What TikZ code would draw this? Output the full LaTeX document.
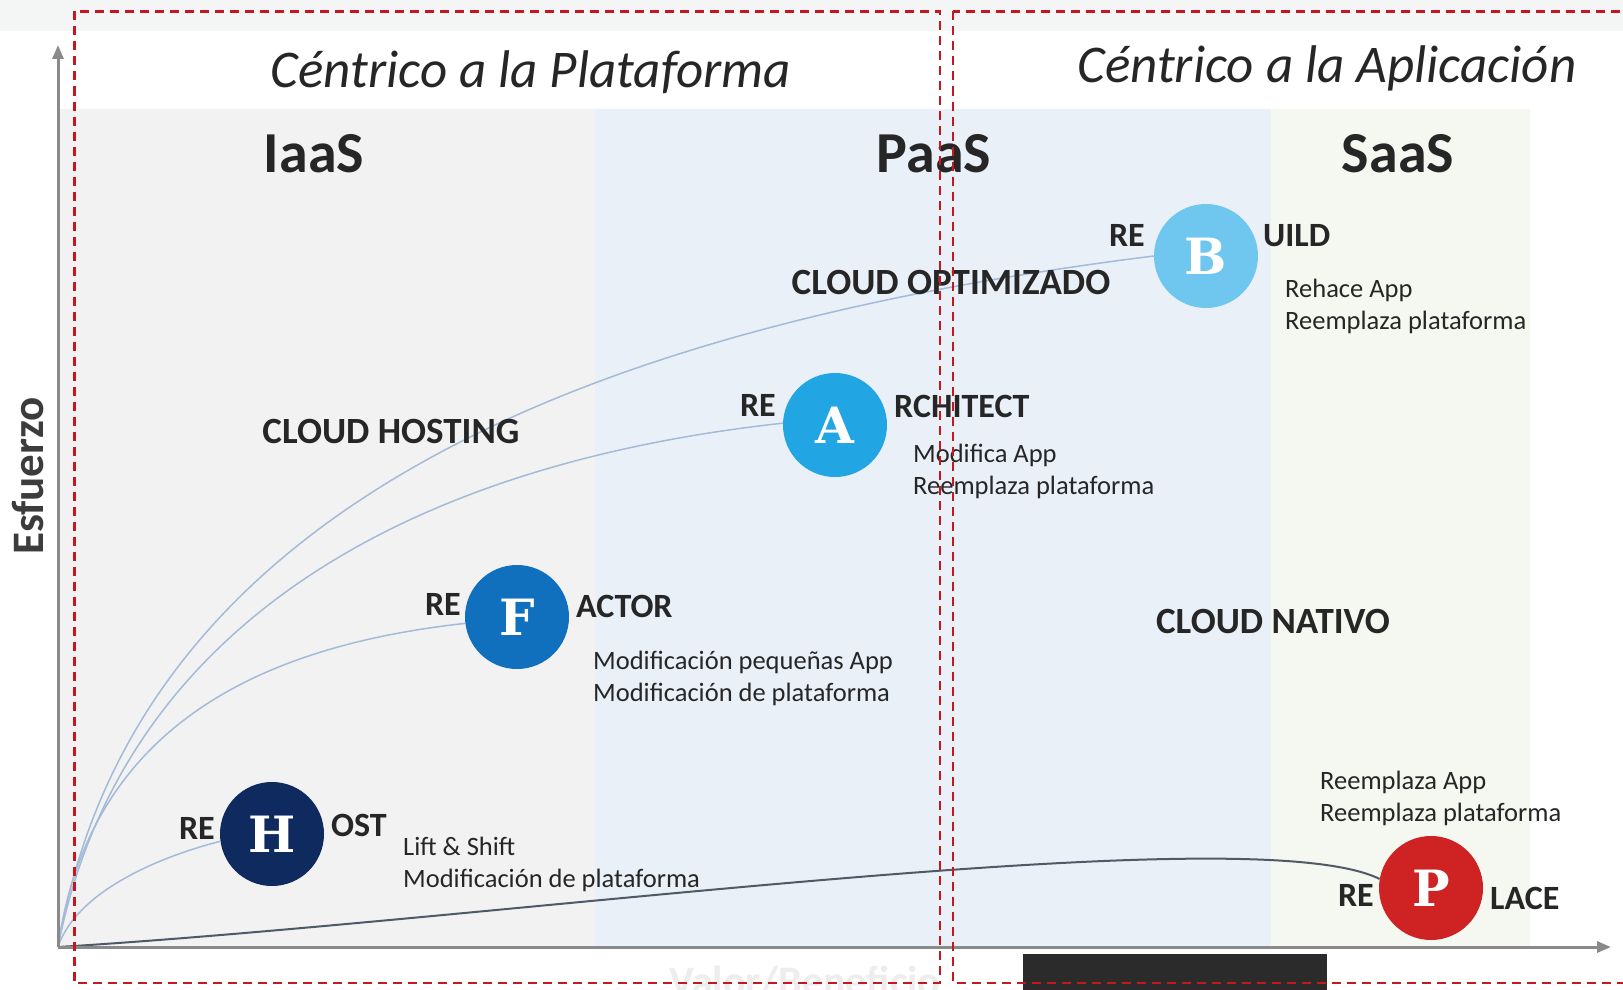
\documentclass[tikz,border=0pt]{standalone}
\usepackage{fontspec}
\setmainfont{Carlito}
\newfontfamily\slabfont{DejaVu Serif}
\usetikzlibrary{arrows.meta}
\definecolor{band}{HTML}{F4F5F5}
\definecolor{iaas}{HTML}{F2F2F2}
\definecolor{paas}{HTML}{EAF0F8}
\definecolor{saas}{HTML}{F5F7F1}
\definecolor{axisgray}{HTML}{8A8A8A}
\definecolor{dashred}{HTML}{C8161E}
\definecolor{curveblue}{HTML}{A3BAD8}
\definecolor{curvedark}{HTML}{4F5A66}
\definecolor{txt}{HTML}{262626}
\definecolor{faint}{HTML}{EDEDED}
\definecolor{blackbar}{HTML}{2B2B2B}
\definecolor{cH}{HTML}{0E2A5E}
\definecolor{cF}{HTML}{1170BE}
\definecolor{cA}{HTML}{21A6E3}
\definecolor{cB}{HTML}{6FC6EF}
\definecolor{cP}{HTML}{CF2222}
\begin{document}
\begin{tikzpicture}[x=1pt,y=-1pt,
  title/.style={font=\fontsize{53}{60}\selectfont\itshape, text=txt, inner sep=0, anchor=base},
  zone/.style={font=\fontsize{58}{66}\selectfont\bfseries, text=txt, inner sep=0, anchor=base},
  cloud/.style={font=\fontsize{37}{44}\selectfont\bfseries, text=txt, inner sep=0, anchor=base},
  rball/.style={circle, minimum size=104pt, inner sep=0, text=white, font=\slabfont\bfseries\fontsize{50}{52}\selectfont},
  pre/.style={font=\fontsize{34}{40}\selectfont\bfseries, text=txt, inner sep=0, anchor=east},
  suf/.style={font=\fontsize{34}{40}\selectfont\bfseries, text=txt, inner sep=0, anchor=west},
  desc/.style={font=\fontsize{26.5}{32}\selectfont, text=txt, inner sep=0, anchor=base west},
  curve/.style={draw=curveblue, line width=1.5pt},
  pcurve/.style={draw=curvedark, line width=2pt},
  axis/.style={draw=axisgray, line width=3pt, -{Triangle[length=14pt,width=11pt]}},
  redbox/.style={draw=dashred, line width=2.5pt, dash pattern=on 9pt off 6pt}
]
\useasboundingbox (0,0) rectangle (1623,990);
% backgrounds
\fill[white] (0,0) rectangle (1623,990);
\fill[band] (0,0) rectangle (1623,31);
\fill[iaas] (58,109) rectangle (595,947);
\fill[paas] (595,109) rectangle (1271,947);
\fill[saas] (1271,109) rectangle (1530,947);
\node[font=\fontsize{42}{48}\selectfont\bfseries, text=faint, inner sep=0, anchor=base] (vb) at (805,995) {Valor/Beneficio};
\fill[blackbar] (1023,954) rectangle (1327,995);

% titles
\node[title] (t1) at (531,88) {Céntrico a la Plataforma};
\node[title] (t2) at (1327,83) {Céntrico a la Aplicación};
\node[zone] (z1) at (314,172) {IaaS};
\node[zone] (z2) at (934,172) {PaaS};
\node[zone] (z3) at (1398,172) {SaaS};

% circles
\node[rball, fill=cH] (H) at (272,834) {H};
\node[rball, fill=cF] (F) at (517,617) {F};
\node[rball, fill=cA] (A) at (835,425) {A};
\node[rball, fill=cB] (B) at (1206,256) {B};
\node[rball, fill=cP] (P) at (1431,888) {P};

% axes and curves
\coordinate (O) at (58,947);
\coordinate (ytop) at (58,45);
\coordinate (xend) at (1611,947);
\draw[curve] (O) .. controls (76,893) and (155,858) .. (H.188);
\draw[curve] (O) .. controls (90,720) and (270,645) .. (F.187);
\draw[curve] (O) .. controls (120,630) and (400,465) .. (A.178);
\draw[curve] (O) .. controls (130,520) and (560,330) .. (B.west);
\draw[pcurve] (O) .. controls (500,920) and (1250,815) .. (P.170);
\draw[axis] (O) -- (ytop);
\draw[axis] (O) -- (xend);
\node[font=\fontsize{45}{50}\selectfont\bfseries, text=txt!90!white, rotate=90, inner sep=0] (yl) at (28,476) {Esfuerzo};

% cloud labels
\node[cloud] (c1) at (951,294) {CLOUD OPTIMIZADO};
\node[cloud] (c2) at (391,443) {CLOUD HOSTING};
\node[cloud] (c3) at (1273,633) {CLOUD NATIVO};

% RE labels
\node[pre] (Hre) at (215,828) {RE};
\node[suf] (Hs) at (331,825) {OST};
\node[pre] (Fre) at (461,604) {RE};
\node[suf] (Fs) at (576,606) {ACTOR};
\node[pre] (Are) at (776,405) {RE};
\node[suf] (As) at (894,406) {RCHITECT};
\node[pre] (Bre) at (1145,235) {RE};
\node[suf] (Bs) at (1263,236) {UILD};
\node[pre] (Pre) at (1374,895) {RE};
\node[suf] (Ps) at (1490,898) {LACE};

% descriptions
\node[desc] (Hd) at (403,855) {\begin{tabular}[t]{@{}l@{}}Lift \& Shift\\Modificación de plataforma\end{tabular}};
\node[desc] (Fd) at (593,669) {\begin{tabular}[t]{@{}l@{}}Modificación pequeñas App\\Modificación de plataforma\end{tabular}};
\node[desc] (Ad) at (913,462) {\begin{tabular}[t]{@{}l@{}}Modifica App\\Reemplaza plataforma\end{tabular}};
\node[desc] (Bd) at (1285,297) {\begin{tabular}[t]{@{}l@{}}Rehace App\\Reemplaza plataforma\end{tabular}};
\node[desc] (Pd) at (1320,789) {\begin{tabular}[t]{@{}l@{}}Reemplaza App\\Reemplaza plataforma\end{tabular}};

% red dashed boxes
\draw[redbox] (74.5,11.5) rectangle (940,983);
\draw[redbox] (953,11.5) rectangle (1650,983);
\end{tikzpicture}
\end{document}
